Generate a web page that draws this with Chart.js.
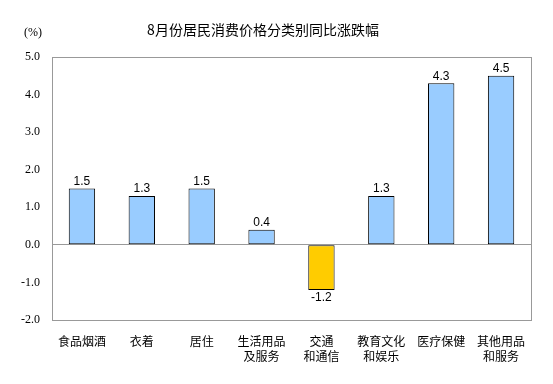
<!DOCTYPE html>
<html>
<head>
<meta charset="utf-8">
<script src="https://cdn.jsdelivr.net/npm/chart.js@4.4.0/dist/chart.umd.min.js"></script>
<style>
  html, body { margin: 0; padding: 0; background: #fff; }
  #wrap { width: 553px; height: 384px; }
</style>
</head>
<body>
<div id="wrap"><canvas id="chart" width="553" height="384"></canvas></div>
<script>
const titleText = '8月份居民消费价格分类别同比涨跌幅';
const unitText = '(%)';
const categories = [
  '食品烟酒', '衣着', '居住', ['生活用品', '及服务'],
  ['交通', '和通信'], ['教育文化', '和娱乐'], '医疗保健', ['其他用品', '和服务']
];
const values = [1.5, 1.3, 1.5, 0.4, -1.2, 1.3, 4.3, 4.5];
const yMin = -2, yMax = 5, yStep = 1;

const cjk = '"Noto Sans CJK SC", "Noto Sans", sans-serif';

// border box, title, unit, value labels
const extras = {
  id: 'extras',
  afterDraw(chart) {
    const ctx = chart.ctx;
    const a = chart.chartArea;
    ctx.save();
    ctx.strokeStyle = '#999';
    ctx.lineWidth = 1;
    ctx.strokeRect(Math.round(a.left) + 0.5, Math.round(a.top) + 0.5,
      Math.round(a.right - a.left), Math.round(a.bottom - a.top));

    ctx.fillStyle = '#000';
    ctx.font = '14px ' + cjk;
    ctx.textAlign = 'center';
    ctx.textBaseline = 'middle';
    ctx.fillText(titleText, 263, 30);

    ctx.font = '12px "Liberation Serif", serif';
    ctx.fillText(unitText, 33, 33);

    ctx.font = '12px "Liberation Sans", Arial, sans-serif';
    const meta = chart.getDatasetMeta(0);
    meta.data.forEach((bar, i) => {
      const v = values[i];
      if (v >= 0) {
        ctx.textBaseline = 'bottom';
        ctx.fillText(v.toFixed(1), bar.x, bar.y - 1);
      } else {
        ctx.textBaseline = 'top';
        ctx.fillText(v.toFixed(1), bar.x, bar.y + 2);
      }
    });
    ctx.restore();
  }
};

new Chart(document.getElementById('chart'), {
  type: 'bar',
  data: {
    labels: categories,
    datasets: [{
      data: values,
      backgroundColor: values.map(v => v < 0 ? '#FFCC00' : '#99CCFF'),
      borderColor: '#000',
      borderWidth: 1,
      borderSkipped: false,
      categoryPercentage: 1,
      barPercentage: 0.44
    }]
  },
  options: {
    responsive: false,
    animation: false,
    layout: { padding: { top: 57, right: 22, bottom: 0, left: 0 } },
    plugins: {
      legend: { display: false },
      tooltip: { enabled: false }
    },
    scales: {
      x: {
        grid: { display: false },
        border: { display: false },
        ticks: {
          color: '#000',
          font: { family: cjk, size: 12, lineHeight: 1.25 },
          padding: 6,
          maxRotation: 0,
          autoSkip: false
        },
        afterFit(scale) { scale.height = 64; }
      },
      y: {
        min: yMin,
        max: yMax,
        grid: {
          drawTicks: false,
          color: c => c.tick && c.tick.value === 0 ? '#999' : 'rgba(0,0,0,0)'
        },
        border: { display: false },
        ticks: {
          stepSize: yStep,
          color: '#000',
          padding: 12,
          font: { family: '"Liberation Serif", serif', size: 12 },
          callback: v => v.toFixed(1)
        },
        afterFit(scale) { scale.width = 52; }
      }
    }
  },
  plugins: [extras]
});
</script>
</body>
</html>
